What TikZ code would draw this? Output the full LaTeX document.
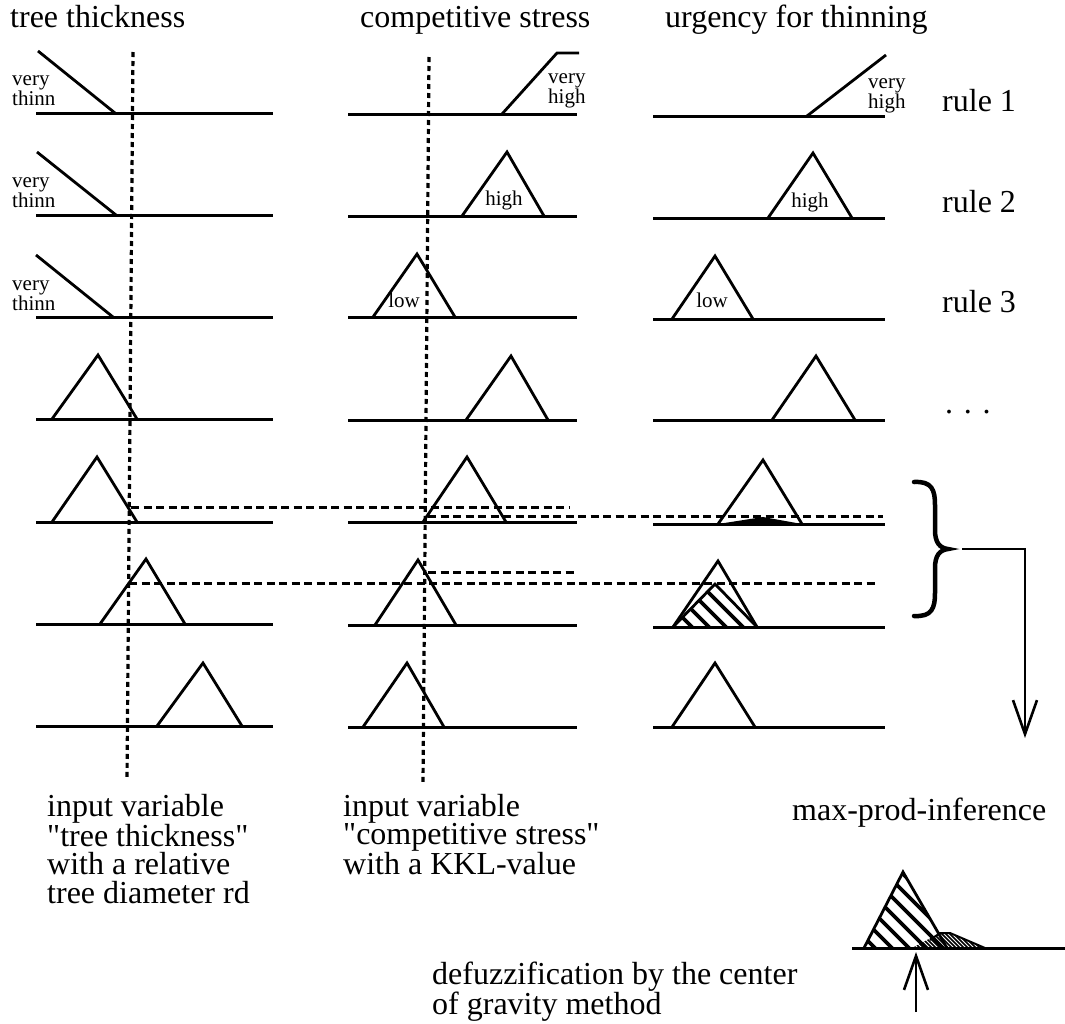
\documentclass[tikz,border=0pt]{standalone}
\usepackage{fontspec}
\setmainfont{Liberation Serif}[Ligatures=TeXOff]
\usetikzlibrary{arrows.meta}

\newcommand\labfont{\fontsize{32}{28.5}\selectfont}
\newcommand\mffont{\fontsize{21}{19}\selectfont}
% stacked lines whose reference point is the first baseline
\newcommand\twolines[2]{\vtop{\hbox{#1}\hbox{#2}}}

\tikzset{
  axis/.style={line width=3pt},
  mf/.style={line width=2.8pt, line join=miter},
  cutline/.style={line width=3pt, dash pattern=on 8pt off 4.5pt},
  probe/.style={line width=3.2pt, dash pattern=on 5pt off 4pt},
  lab/.style={font=\labfont, inner sep=0pt, anchor=base west},
  mflab/.style={font=\mffont, inner sep=0pt},
  flow/.style={line width=2pt},
  hatchthick/.style={line width=3.6pt},
  hatchfine/.style={line width=1.6pt},
  barb/.style={-{Straight Barb[length=34pt, width=24pt, line width=2.6pt]}},
}

\begin{document}
\begin{tikzpicture}[x=1pt, y=-1pt]
\useasboundingbox (0,0) rectangle (1065,1023);

% column headings
\node[lab] (hdTT) at (10,27) {tree thickness};
\node[lab] (hdCS) at (360,27) {competitive stress};
\node[lab] (hdUT) at (665,27) {urgency for thinning};

% rule names
\node[lab] (rule1) at (942,111) {rule 1};
\node[lab] (rule2) at (942,212) {rule 2};
\node[lab] (rule3) at (942,312) {rule 3};
\node[lab] (ruledots) at (945,413) {. . .};

% axes of the membership functions
\foreach \ya/\yb/\yc in {113/114/116, 215/216/218, 317/317/319,
                         419/420/420, 522/522/524, 624/625/627, 726/727/727}{
  \draw[axis] (36,\ya) -- (273,\ya);
  \draw[axis] (348,\yb) -- (577,\yb);
  \draw[axis] (653,\yc) -- (885,\yc);
}

% tree thickness
\draw[mf] (38,51) -- (115,113);
\draw[mf] (37,152) -- (116,215);
\draw[mf] (36,255) -- (113,317);
\draw[mf] (52,419) -- (98,355) -- (137,419);
\draw[mf] (52,522) -- (97,457) -- (137,522);
\draw[mf] (100,624) -- (146,559) -- (185,624);
\draw[mf] (157,726) -- (203,663) -- (242,726);
\node[mflab, anchor=base west] (vt1) at (12,85) {\twolines{very}{thinn}};
\node[mflab, anchor=base west] (vt2) at (12,187) {\twolines{very}{thinn}};
\node[mflab, anchor=base west] (vt3) at (12,290) {\twolines{very}{thinn}};

% competitive stress
\draw[mf] (502,114) -- (557,53) -- (579,53);
\draw[mf] (462,216) -- (507,152) -- (544,216);
\draw[mf] (373,317) -- (417,254) -- (455,317);
\draw[mf] (466,420) -- (511,356) -- (548,420);
\draw[mf] (423,522) -- (467,457) -- (506,522);
\draw[mf] (375,625) -- (418,560) -- (456,625);
\draw[mf] (363,727) -- (407,663) -- (444,727);
\node[mflab, anchor=base west] (vh2) at (548,83) {\twolines{very}{high}};
\node[mflab, anchor=base] (hi2) at (504,205) {high};
\node[mflab, anchor=base] (lo2) at (404,307) {low};

% urgency for thinning: scaled conclusions first
\fill (718,524) -- (763,517) -- (802,524) -- cycle;
\begin{scope}
  \clip (673,627) -- (715,584) -- (757,627) -- cycle;
  \foreach \c in {48,65,...,140}
    \draw[hatchthick] ({\c+560},560) -- ({\c+640},640);
\end{scope}
\draw[mf] (673,627) -- (715,584) -- (757,627);

\draw[mf] (807,116) -- (886,55);
\draw[mf] (768,218) -- (813,153) -- (852,218);
\draw[mf] (672,319) -- (715,256) -- (753,319);
\draw[mf] (772,420) -- (816,356) -- (855,420);
\draw[mf] (718,524) -- (763,460) -- (802,524);
\draw[mf] (673,627) -- (718,561) -- (757,627);
\draw[mf] (672,727) -- (715,663) -- (755,727);
\node[mflab, anchor=base west] (vh3) at (868,88) {\twolines{very}{high}};
\node[mflab, anchor=base] (hi3) at (810,207) {high};
\node[mflab, anchor=base] (lo3) at (712,307) {low};

% crisp inputs
\coordinate (rdTop) at (133,52);
\coordinate (rdBot) at (127,780);
\coordinate (kklTop) at (429,57);
\coordinate (kklBot) at (423,783);
\draw[probe] (rdTop) -- (rdBot);
\draw[probe] (kklTop) -- (kklBot);

% degrees of fulfilment
\coordinate (c5a) at (131,507);  \coordinate (c5aEnd) at (570,507);
\coordinate (c5b) at (428,516);  \coordinate (c5bEnd) at (883,516);
\coordinate (c6a) at (129,583);  \coordinate (c6aEnd) at (878,583);
\coordinate (c6b) at (428,572);  \coordinate (c6bEnd) at (575,572);
\draw[cutline] (c5a) -- (c5aEnd);
\draw[cutline] (c5b) -- (c5bEnd);
\draw[cutline] (c6a) -- (c6aEnd);
\draw[cutline] (c6b) -- (c6bEnd);

% aggregation of the active rules
\draw[line width=4.5pt, line cap=round]
  (914,482) .. controls (932,481) and (935,490) .. (935,505) -- (935,530)
  .. controls (935,543) and (940,548) .. (948,549)
  .. controls (940,550) and (935,555) .. (935,568) -- (935,593)
  .. controls (935,608) and (932,617) .. (914,616);
\coordinate (braceTip) at (962,549);
\coordinate (aggEnd) at (1025,738);
\draw[flow, barb] (braceTip) -| (aggEnd);

\node[lab] (maxprod) at (792,820) {max-prod-inference};

% aggregated output set
\begin{scope}
  \clip (864,948) -- (903,872) -- (947,948) -- cycle;
  \foreach \c in {-90,-73,...,40}
    \draw[hatchthick] ({\c+860},860) -- ({\c+960},960);
\end{scope}
\begin{scope}
  \clip (912,948) -- (940,933) -- (950,933) -- (985,948) -- cycle;
  \foreach \c in {-40,-36,...,60}
    \draw[hatchfine] ({\c+920},920) -- ({\c+960},960);
\end{scope}
\draw[mf] (864,948) -- (903,872) -- (947,948);
\draw[line width=2pt] (930,940) -- (940,933) -- (950,933) -- (985,948);
\draw[axis] (852,948) -- (1065,948);

% centre of gravity
\coordinate (cogFoot) at (916,1012);
\coordinate (cogTip) at (916,952);
\draw[flow, barb] (cogFoot) -- (cogTip);

% explanations
\node[lab] (txtRd) at (47,816)
  {\vtop{\hbox{input variable}\hbox{"tree thickness"}\hbox{with a relative}\hbox{tree diameter rd}}};
\node[lab] (txtKkl) at (343,816)
  {\vtop{\hbox{input variable}\hbox{"competitive stress"}\hbox{with a KKL-value}}};
\node[lab] (txtDefuzz) at (432,984)
  {\twolines{defuzzification by the center}{of gravity method}};
\end{tikzpicture}
\end{document}
